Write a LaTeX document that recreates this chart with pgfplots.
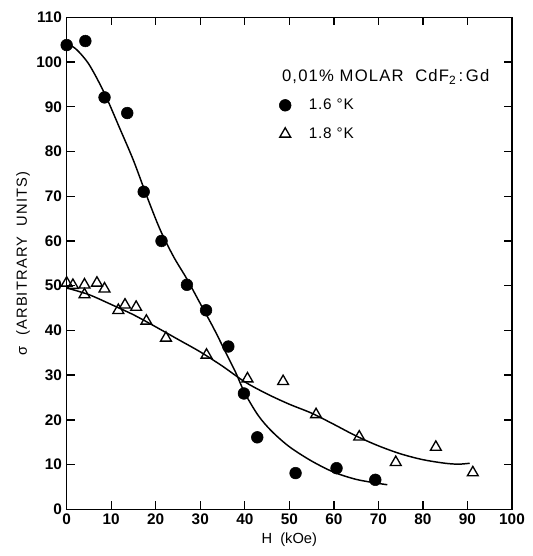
\documentclass[border=0pt]{standalone}
\usepackage{fontspec}
\setmainfont{Liberation Sans}
\usepackage{pgfplots}
\pgfplotsset{compat=1.18}
\begin{document}
\begin{tikzpicture}
\begin{axis}[
  scale only axis, width=334pt, height=369pt,
  xmin=0, xmax=100, ymin=0, ymax=110,
  xtick={0,10,...,100}, ytick={0,10,...,110},
  tick align=inside, major tick length=6pt,
  axis line style={line width=1pt},
  every tick/.style={line width=1pt, black},
  ticklabel style={font=\fontsize{11.5}{13}\selectfont\bfseries},
  /pgf/number format/assume math mode=true,
  xlabel={H\ \ (kOe)},
  ylabel={\addfontfeatures{LetterSpace=8}σ\ \ (ARBITRARY\ \ UNITS)},
  label style={font=\fontsize{11}{13}\selectfont},
  xlabel style={yshift=1pt},
  ylabel style={yshift=-2pt},
  legend style={at={(axis cs:46.8,93)}, anchor=north west, draw=none, fill=none,
    font=\fontsize{11.5}{13}\selectfont\addfontfeatures{LetterSpace=5}, row sep=8pt},
  legend cell align=left,
  clip=false,
]
\path (rel axis cs:0,1) ++(0,13pt);
\path (rel axis cs:0,0.5) ++(-50pt,0);
\path (rel axis cs:1,0.5) ++(15pt,0);
\path (rel axis cs:0.5,0) ++(0,-35pt);
% fitted curve 1.6 K
\addplot[black, line width=1.1pt, smooth, forget plot] coordinates {
(0,104) (2,103) (5,99.5) (8.5,93) (12,85) (15,78) (18,70) (21,62.5) (24,56.5)
(27,51.5) (30,46) (33,40.5) (36,34.5) (38,30.5) (40,26) (43,21) (46,17.5)
(50,14) (55,10.8) (60,8.3) (65,6.7) (70,5.8) (72,5.5)};
% fitted curve 1.8 K
\addplot[black, line width=1.1pt, smooth, forget plot] coordinates {
(0,49.5) (5,48) (10,45.8) (15,43.5) (20,40.8) (25,38) (30,35.2) (35,32)
(40,28.5) (45,25.8) (50,23.5) (55,21.5) (60,19) (65,16.4) (70,14.2)
(75,12.4) (80,11.1) (85,10.3) (88,10.1) (90.5,10.3)};
% data 1.6 K
\addplot[only marks, mark=*, mark size=4.4pt, black] coordinates {
(0,103.8) (4.2,104.7) (8.5,92.1) (13.6,88.6) (17.3,71) (21.3,60) (27,50.2)
(31.3,44.5) (36.3,36.4) (39.8,25.9) (42.8,16.1) (51.4,8.1) (60.6,9.2) (69.3,6.6)};
\addlegendentry{\ \ \ 1.6 °K}
% data 1.8 K
\addplot[only marks, mark=triangle, mark size=4.7pt, black, mark options={line width=1pt, fill=white}] coordinates {
(0,50.6) (1.4,50.1) (4,50.2) (4,48) (6.8,50.6) (8.5,49.3) (11.6,44.5) (13.1,45.7)
(15.6,45.2) (17.9,42.1) (22.3,38.3) (31.4,34.5) (40.6,29.2) (48.6,28.6)
(56,21.2) (65.7,16.2) (73.9,10.5) (82.9,13.9) (91.2,8.2)};
\addlegendentry{\ \ \ 1.8 °K}
\node[anchor=base west, font=\fontsize{12.5}{14}\selectfont\addfontfeatures{LetterSpace=7}] at (axis cs:47.3,95.6)
  {0,01\% MOLAR\ \ CdF\raisebox{-0.35ex}{\fontsize{9}{9}\selectfont 2}\,:\,Gd};
\end{axis}
\end{tikzpicture}
\end{document}
